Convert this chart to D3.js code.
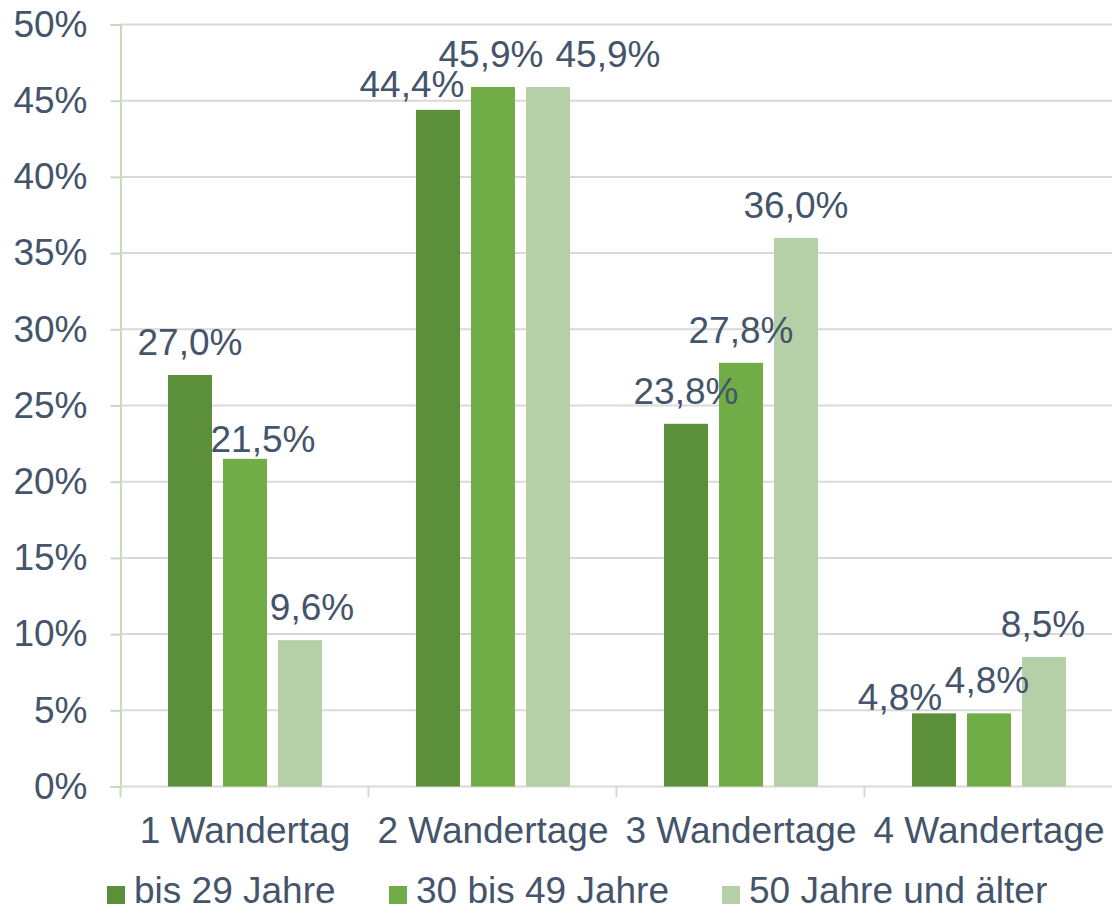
<!DOCTYPE html>
<html><head><meta charset="utf-8">
<script src="https://cdn.jsdelivr.net/npm/d3@7"></script>
<style>
html,body{margin:0;padding:0;background:#fff;}
svg text{font-family:"Liberation Sans",Arial,sans-serif;fill:#44546a;}
</style></head>
<body><svg id="c" width="1112" height="910"></svg>
<script>
const categories = ["1 Wandertag","2 Wandertage","3 Wandertage","4 Wandertage"];
const seriesNames = ["bis 29 Jahre","30 bis 49 Jahre","50 Jahre und älter"];
const s1 = [27.0, 44.4, 23.8, 4.8];
const s2 = [21.5, 45.9, 27.8, 4.8];
const s3 = [9.6, 45.9, 36.0, 8.5];
const yTicks = [0,5,10,15,20,25,30,35,40,45,50];
const colors = ["#5b8f3a","#70ad47","#b5cfa6"];
// manual label nudges (layout only), [series][category] -> [dx,dy]
const labelNudge = [
  [[0,0],[-26,7],[0,0],[-34,17]],
  [[18,13],[-2,0],[0,0],[-2,0]],
  [[12,0],[60,0],[0,0],[-1,0]]
];
const seriesValues = [s1,s2,s3];

(function(){
const svg = d3.select("#c");
const pLeft = 120.5, pRight = 1112, pTop = 24.5, pBottom = 786.5;
const x = d3.scaleBand().domain(categories).range([120, 1112]).padding(0);
const xi = d3.scaleBand().domain(d3.range(3)).range([48, 202]).paddingInner(0.2).paddingOuter(0);
const y = d3.scaleLinear().domain([0,50]).range([pBottom, pTop]);

// gridlines
svg.append("g").selectAll("line").data(yTicks.filter(d=>d>0)).join("line")
  .attr("x1", pLeft).attr("x2", pRight)
  .attr("y1", d=>y(d)).attr("y2", d=>y(d))
  .attr("stroke","#d9d9d9").attr("stroke-width",2);

// y axis
const yAxis = d3.axisLeft(y).tickValues(yTicks).tickSize(10).tickPadding(23).tickFormat(d=>d+"%");
const gy = svg.append("g").attr("transform",`translate(${pLeft},0)`).call(yAxis);
gy.select(".domain").attr("stroke","#c5dcb6").attr("stroke-width",2);
gy.selectAll(".tick line").attr("stroke","#c5dcb6").attr("stroke-width",2);
gy.selectAll(".tick text").attr("font-size",37).attr("fill","#44546a")
  .attr("font-family","Liberation Sans, Arial, sans-serif");

// x axis
const xAxisScale = d3.scaleLinear().domain([0,4]).range([120,1112]);
const gx = svg.append("g").attr("transform",`translate(0,${pBottom})`);
gx.append("line").attr("x1",pLeft).attr("x2",pRight).attr("y1",0).attr("y2",0)
  .attr("stroke","#d9d9d9").attr("stroke-width",2);
gx.selectAll("line.tk").data([0,1,2,3]).join("line").attr("class","tk")
  .attr("x1",d=>Math.round(xAxisScale(d))+0.5).attr("x2",d=>Math.round(xAxisScale(d))+0.5)
  .attr("y1",0).attr("y2",11).attr("stroke",(d)=>d===0?"#c5dcb6":"#d9d9d9").attr("stroke-width",2);
gx.selectAll("text").data(categories).join("text")
  .attr("x",d=>x(d)+x.bandwidth()/2+1).attr("y",56.5)
  .attr("text-anchor","middle").attr("font-size",37).text(d=>d);

// bars
const groups = svg.append("g").selectAll("g").data(categories).join("g")
  .attr("transform",d=>`translate(${x(d)},0)`);
groups.each(function(cat, ci){
  const g = d3.select(this);
  seriesValues.forEach((vals, si)=>{
    g.append("rect").attr("x", xi(si)).attr("width", xi.bandwidth())
      .attr("y", y(vals[ci])).attr("height", pBottom - y(vals[ci]))
      .attr("fill", colors[si]);
  });
});
// labels
groups.each(function(cat, ci){
  const g = d3.select(this);
  seriesValues.forEach((vals, si)=>{
    const n = labelNudge[si][ci];
    g.append("text").attr("x", xi(si)+xi.bandwidth()/2 + n[0])
      .attr("y", y(vals[ci]) - 20 + n[1])
      .attr("text-anchor","middle").attr("font-size",37)
      .text(vals[ci].toFixed(1).replace(".",",")+"%");
  });
});

// legend
const legX = [107, 389, 722];
const leg = svg.append("g").selectAll("g").data(seriesNames).join("g")
  .attr("transform",(d,i)=>`translate(${legX[i]},0)`);
leg.append("rect").attr("x",0).attr("y",886).attr("width",18).attr("height",18).attr("fill",(d,i)=>colors[i]);
leg.append("text").attr("x",27).attr("y",903).attr("font-size",37).text(d=>d);
})();
</script></body></html>
